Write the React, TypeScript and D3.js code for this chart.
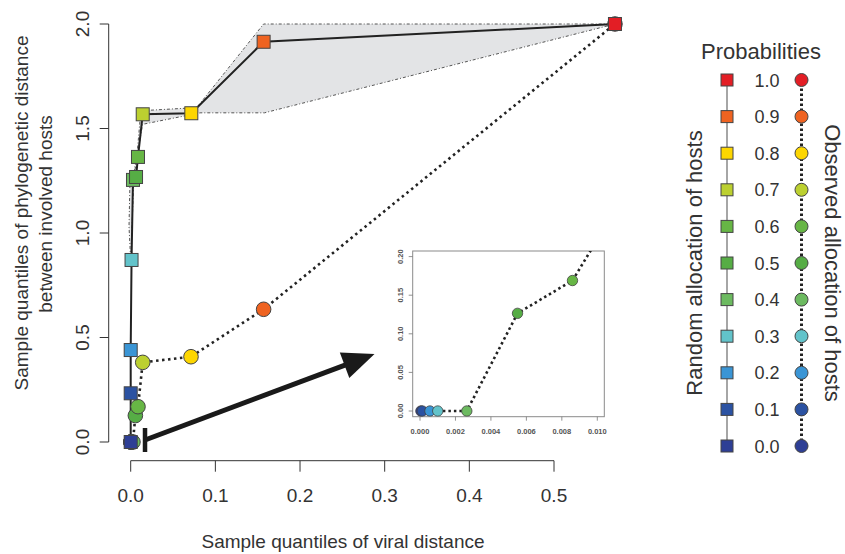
import React from "react";
import * as d3 from "d3";

// probabilities (legend rows) and their colours
const probs = [0.0, 0.1, 0.2, 0.3, 0.4, 0.5, 0.6, 0.7, 0.8, 0.9, 1.0];
const probLabels = ["0.0", "0.1", "0.2", "0.3", "0.4", "0.5", "0.6", "0.7", "0.8", "0.9", "1.0"];
const probColors = ["#2e3f95", "#2b52a2", "#3a95d5", "#62c3ca", "#6cba60", "#56ad45", "#67b645", "#bcd030", "#fdd600", "#ef6321", "#e31e25"];

// random allocation of hosts (squares)
const randomX = [0.0, 0.0, 0.0, 0.001, 0.0027, 0.0063, 0.0086, 0.0142, 0.0716, 0.157, 0.572];
const randomY = [0.0, 0.233, 0.44, 0.871, 1.254, 1.268, 1.364, 1.568, 1.573, 1.915, 2.0];

// observed allocation of hosts (circles)
const observedX = [0.00005, 0.00013, 0.00056, 0.001, 0.00264, 0.0055, 0.0086, 0.0142, 0.0712, 0.157, 0.572];
const observedY = [0, 0, 0, 0, 0, 0.1265, 0.169, 0.381, 0.408, 0.635, 2.0];

// envelope of the random allocation
const envUpperX = [0.0, 0.004, 0.008, 0.012, 0.078, 0.157, 0.572];
const envUpperY = [0.87, 1.29, 1.4, 1.585, 1.6, 2.0, 2.0];
const envLowerX = [0.0, -0.002, -0.001, 0.002, 0.005, 0.014, 0.082, 0.158, 0.572];
const envLowerY = [0.87, 1.03, 1.22, 1.26, 1.3, 1.52, 1.575, 1.575, 2.0];

// axes
const xTicks = [0, 0.1, 0.2, 0.3, 0.4, 0.5];
const xTickLabels = ["0.0", "0.1", "0.2", "0.3", "0.4", "0.5"];
const yTicks = [0, 0.5, 1, 1.5, 2];
const yTickLabels = ["0.0", "0.5", "1.0", "1.5", "2.0"];
const insetXTicks = [0, 0.002, 0.004, 0.006, 0.008, 0.01];
const insetXTickLabels = ["0.000", "0.002", "0.004", "0.006", "0.008", "0.010"];
const insetYTicks = [0, 0.05, 0.1, 0.15, 0.2];
const insetYTickLabels = ["0.00", "0.05", "0.10", "0.15", "0.20"];

// arrow from the origin cluster to the inset (data units)
const arrowFrom = [0.0169, 0.0096];
const arrowTo = [0.288, 0.421];

const font = "'Liberation Sans', Arial, Helvetica, sans-serif";
const txt = "#333";

export default function App() {
  const W = 845, H = 554;
  const x = d3.scaleLinear().domain([0, 0.5]).range([130.7, 554]);
  const y = d3.scaleLinear().domain([0, 2]).range([442, 24]);
  const yAxisX = 108.7, xAxisY = 460.7;

  // inset
  const inset = { l: 412.7, r: 604.3, t: 251, b: 416.7 };
  const ix = d3.scaleLinear().domain([0, 0.01]).range([420, 597.3]);
  const iy = d3.scaleLinear().domain([0, 0.2]).range([411, 256.6]);

  const legY = d3.scaleLinear().domain([0, 1]).range([446, 80]);
  const sqX = 727, circX = 801.5, labX = 767;

  const mainLine = d3.line<number>().x(i => x(randomX[i])).y(i => y(randomY[i]));
  const obsLine = d3.line<number>().x(i => x(observedX[i])).y(i => y(observedY[i]));
  const insetLine = d3.line<number>().x(i => ix(observedX[i])).y(i => iy(observedY[i]));
  const idx = probs.map((_, i) => i);

  const envPts: [number, number][] = [
    ...envUpperX.map((v, i) => [x(v), y(envUpperY[i])] as [number, number]),
    ...envLowerX.map((v, i) => [x(v), y(envLowerY[i])] as [number, number]).reverse(),
  ];
  const envPath = d3.line()(envPts) + "Z";

  // arrow geometry
  const ax0 = x(arrowFrom[0]), ay0 = y(arrowFrom[1]);
  const ax1 = x(arrowTo[0]), ay1 = y(arrowTo[1]);
  const ang = Math.atan2(ay1 - ay0, ax1 - ax0);
  const headLen = 32, headHalf = 13.5;
  const bx = ax1 - headLen * Math.cos(ang), by = ay1 - headLen * Math.sin(ang);
  const nx = -Math.sin(ang), ny = Math.cos(ang);
  const head = `M${ax1},${ay1}L${bx + nx * headHalf},${by + ny * headHalf}L${bx - nx * headHalf},${by - ny * headHalf}Z`;

  const sq = 13;

  return (
    <svg width={W} height={H} style={{ position: "absolute", left: 0, top: 0, background: "#fff" }} fontFamily={font}>
      <defs>
        <clipPath id="insetClip">
          <rect x={inset.l} y={inset.t} width={inset.r - inset.l} height={inset.b - inset.t} />
        </clipPath>
      </defs>

      {/* envelope */}
      <path d={envPath} fill="#e3e4e6" stroke="#555" strokeWidth={1} strokeDasharray="3,2,1,2" />

      {/* random allocation line */}
      <path d={mainLine(idx) || ""} fill="none" stroke="#222" strokeWidth={2} />
      {/* observed allocation line */}
      <path d={obsLine(idx) || ""} fill="none" stroke="#222" strokeWidth={2.6} strokeDasharray="2.5,3.5" />

      {observedX.map((v, i) => (
        <circle key={"o" + i} cx={x(v)} cy={y(observedY[i])} r={7.3} fill={probColors[i]} stroke="#444" strokeWidth={1} />
      ))}
      {randomX.map((v, i) => (
        <rect key={"r" + i} x={x(v) - sq / 2} y={y(randomY[i]) - sq / 2} width={sq} height={sq}
          fill={probColors[i]} stroke="#444" strokeWidth={1} />
      ))}

      {/* axes */}
      <g stroke="#333" strokeWidth={1}>
        <line x1={x(0)} x2={x(0.5)} y1={xAxisY} y2={xAxisY} />
        {xTicks.map(t => <line key={t} x1={x(t)} x2={x(t)} y1={xAxisY} y2={xAxisY + 11} />)}
        <line x1={yAxisX} x2={yAxisX} y1={y(0)} y2={y(2)} />
        {yTicks.map(t => <line key={t} x1={yAxisX} x2={yAxisX - 9} y1={y(t)} y2={y(t)} />)}
      </g>
      {xTicks.map((t, i) => (
        <text key={t} x={x(t)} y={502} textAnchor="middle" fontSize={19} fill={txt}>{xTickLabels[i]}</text>
      ))}
      {yTicks.map((t, i) => (
        <text key={t} transform={`translate(89,${y(t)}) rotate(-90)`} textAnchor="middle" fontSize={19} fill={txt}>{yTickLabels[i]}</text>
      ))}
      <text x={343} y={548} textAnchor="middle" fontSize={19} fill={txt}>Sample quantiles of viral distance</text>
      <text transform={`translate(28,213) rotate(-90)`} textAnchor="middle" fontSize={19} fill={txt}>Sample quantiles of phylogenetic distance</text>
      <text transform={`translate(52,214) rotate(-90)`} textAnchor="middle" fontSize={19} fill={txt}>between involved hosts</text>

      {/* arrow */}
      <line x1={ax0} y1={ay0} x2={bx + 4 * Math.cos(ang)} y2={by + 4 * Math.sin(ang)} stroke="#1a1a1a" strokeWidth={5} />
      <line x1={ax0} x2={ax0} y1={ay0 - 12} y2={ay0 + 12} stroke="#1a1a1a" strokeWidth={4.5} />
      <path d={head} fill="#1a1a1a" />

      {/* inset */}
      <rect x={inset.l} y={inset.t} width={inset.r - inset.l} height={inset.b - inset.t} fill="#fff" stroke="#8a8a8a" strokeWidth={1} />
      <g clipPath="url(#insetClip)">
        <path d={insetLine(idx) || ""} fill="none" stroke="#222" strokeWidth={2.6} strokeDasharray="2.5,3" />
        {observedX.map((v, i) => (
          <circle key={"io" + i} cx={ix(v)} cy={iy(observedY[i])} r={5.2} fill={probColors[i]} stroke="#444" strokeWidth={0.8} />
        ))}
      </g>
      <g stroke="#777" strokeWidth={0.8}>
        {insetXTicks.map(t => <line key={t} x1={ix(t)} x2={ix(t)} y1={inset.b} y2={inset.b + 4} />)}
        {insetYTicks.map(t => <line key={t} x1={inset.l} x2={inset.l - 4} y1={iy(t)} y2={iy(t)} />)}
      </g>
      {insetXTicks.map((t, i) => (
        <text key={t} x={ix(t)} y={433.5} textAnchor="middle" fontSize={7.5} fontWeight="bold" fill="#555">{insetXTickLabels[i]}</text>
      ))}
      {insetYTicks.map((t, i) => (
        <text key={t} transform={`translate(403,${iy(t)}) rotate(-90)`} textAnchor="middle" fontSize={7.5} fontWeight="bold" fill="#555">{insetYTickLabels[i]}</text>
      ))}

      {/* legend */}
      <text x={761} y={59} textAnchor="middle" fontSize={22} fill={txt}>Probabilities</text>
      <line x1={sqX} x2={sqX} y1={legY(0)} y2={legY(1)} stroke="#888" strokeWidth={1.5} />
      <line x1={circX} x2={circX} y1={legY(0)} y2={legY(1)} stroke="#222" strokeWidth={3} strokeDasharray="2.5,2.5" />
      {probs.map((p, i) => (
        <g key={"l" + i}>
          <rect x={sqX - 6} y={legY(p) - 6} width={12} height={12} fill={probColors[i]} stroke="#444" strokeWidth={1} />
          <circle cx={circX} cy={legY(p)} r={6.5} fill={probColors[i]} stroke="#444" strokeWidth={1} />
          <text x={labX} y={legY(p) + 6.5} textAnchor="middle" fontSize={18} fill={txt}>{probLabels[i]}</text>
        </g>
      ))}
      <text transform={`translate(702,263) rotate(-90)`} textAnchor="middle" fontSize={22} fill={txt}>Random allocation of hosts</text>
      <text transform={`translate(825,263) rotate(90)`} textAnchor="middle" fontSize={22} fill={txt}>Observed allocation of hosts</text>
    </svg>
  );
}
